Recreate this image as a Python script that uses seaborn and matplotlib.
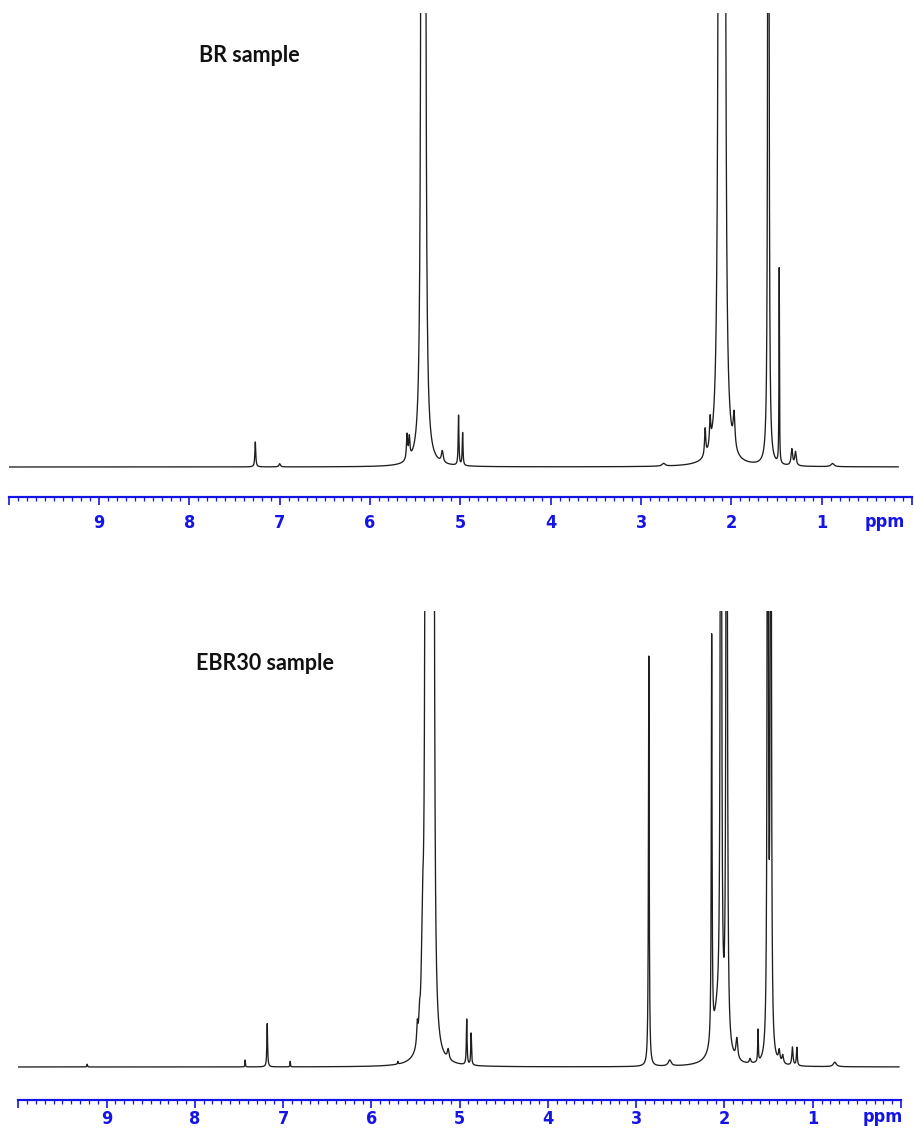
import numpy as np
import pandas as pd
import seaborn as sns
import matplotlib
matplotlib.use('Agg')
import matplotlib.pyplot as plt
from matplotlib.ticker import FixedLocator, MultipleLocator, FuncFormatter

# peak lists: position (ppm), height (1 = top of panel), half width (ppm)
br_center = [7.27, 7.00, 5.59, 5.565, 5.425, 5.395, 5.20, 5.02, 4.975, 2.75,
             2.29, 2.235, 2.13, 2.08, 1.97, 1.59, 1.47, 1.33, 1.29, 0.88]
br_height = [0.055, 0.007, 0.055, 0.045, 5.0, 5.0, 0.025, 0.11, 0.072, 0.006,
             0.06, 0.06, 5.0, 5.0, 0.075, 6.0, 0.43, 0.036, 0.03, 0.007]
br_width = [0.006, 0.01, 0.008, 0.008, 0.007, 0.007, 0.012, 0.005, 0.005, 0.02,
            0.008, 0.008, 0.009, 0.009, 0.012, 0.004, 0.003, 0.01, 0.01, 0.02]

ebr_center = [9.22, 7.43, 7.18, 6.92, 5.70, 5.48, 5.455, 5.42, 5.38, 5.34, 5.30, 5.13,
              4.92, 4.87, 2.857, 2.62, 2.145, 2.08, 2.04, 1.975, 1.86, 1.71, 1.62,
              1.51, 1.475, 1.38, 1.34, 1.23, 1.18, 0.75]
ebr_height = [0.006, 0.015, 0.095, 0.012, 0.006, 0.045, 0.04, 0.2, 5.0, 5.0, 5.0, 0.022,
              0.10, 0.07, 0.9, 0.013, 0.89, 0.1, 3.0, 3.0, 0.045, 0.01, 0.07,
              3.0, 3.0, 0.025, 0.018, 0.04, 0.04, 0.01]
ebr_width = [0.004, 0.003, 0.005, 0.003, 0.004, 0.008, 0.008, 0.015, 0.007, 0.007, 0.007, 0.012,
             0.005, 0.005, 0.005, 0.02, 0.005, 0.06, 0.006, 0.006, 0.012, 0.01, 0.004,
             0.005, 0.005, 0.01, 0.01, 0.008, 0.006, 0.02]

tick_values = list(range(0, 11))
tick_labels = ['', '1', '2', '3', '4', '5', '6', '7', '8', '9', '']


def spectrum(centers, heights, widths, stop):
    ppm = np.arange(10.0, stop, -0.0005)
    y = np.zeros_like(ppm)
    for c, h, w in zip(centers, heights, widths):
        y += h * w ** 2 / ((ppm - c) ** 2 + w ** 2)
    return pd.DataFrame({'ppm': ppm, 'intensity': y})


sns.set_style('white')
blue = '#1414e6'
W, H = 914, 1129
fig = plt.figure(figsize=(W / 100, H / 100), dpi=100)
tick_font = dict(family='DejaVu Sans', fontstretch='condensed', fontweight='bold', fontsize=13)


def panel(rect_px, df, ruler_gap, label_pad, title, title_xy, ppm_xy):
    x0, x1, ytop, ybase = rect_px
    span = ybase - ytop
    bottom_px = ybase + 0.02 * span
    ax = fig.add_axes([x0 / W, 1 - bottom_px / H, (x1 - x0) / W, (bottom_px - ytop) / H])
    sns.lineplot(data=df, x='ppm', y='intensity', ax=ax, color='#1e1e1e',
                 linewidth=0.95, estimator=None, sort=False)
    ax.set_xlim(10, 0)
    ax.set_ylim(-0.02, 1.0)
    for s in ['left', 'right', 'top']:
        ax.spines[s].set_visible(False)
    ax.spines['bottom'].set_position(('outward', (ruler_gap - 0.02 * span) * 0.72))
    ax.spines['bottom'].set_color(blue)
    ax.spines['bottom'].set_linewidth(1.6)
    ax.set_yticks([])
    ax.set_xlabel('')
    ax.set_ylabel('')
    ax.xaxis.set_major_locator(FixedLocator(tick_values))
    ax.xaxis.set_major_formatter(FuncFormatter(lambda v, p: tick_labels[int(round(v))]))
    ax.xaxis.set_minor_locator(MultipleLocator(0.1))
    ax.tick_params(axis='x', which='major', direction='out', length=6, width=1.2,
                   color=blue, labelcolor=blue, pad=label_pad, bottom=True)
    ax.tick_params(axis='x', which='minor', direction='out', length=3, width=0.9,
                   color=blue, bottom=True)
    for lab in ax.get_xticklabels():
        lab.set_fontfamily(tick_font['family'])
        lab.set_fontstretch(tick_font['fontstretch'])
        lab.set_fontweight(tick_font['fontweight'])
        lab.set_fontsize(tick_font['fontsize'])
    fig.text(ppm_xy[0] / W, 1 - ppm_xy[1] / H, 'ppm', color=blue, ha='center', va='center',
             **tick_font)
    fig.text(title_xy[0] / W, 1 - title_xy[1] / H, title, ha='left', va='center',
             family=['Lato', 'DejaVu Sans'], fontweight='bold', fontsize=15.5, color='#111111')
    return ax


br = spectrum(br_center, br_height, br_width, 0.15)
ebr = spectrum(ebr_center, ebr_height, ebr_width, 0.02)

panel((8.7, 912, 13, 467), br, 30, 6, 'BR sample', (199, 55), (885, 522))
panel((18.3, 901, 611, 1067), ebr, 33, 1.5, 'EBR30 sample', (196, 663), (883, 1117))

fig.savefig('out.png', dpi=100)
